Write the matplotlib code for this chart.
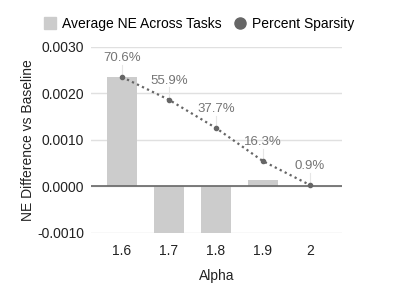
import numpy as np
import matplotlib.pyplot as plt

plt.rcParams['font.family'] = ['Liberation Sans', 'DejaVu Sans']

# Data
alpha = ['1.6', '1.7', '1.8', '1.9', '2']
ne_diff = [0.00235, -0.0012, -0.0012, 0.00013, 0.0]
sparsity = [70.6, 55.9, 37.7, 16.3, 0.9]

x = np.arange(len(alpha))

fig = plt.figure(figsize=(3.99, 2.99), dpi=100)
ax = fig.add_axes([0.228, 0.221, 0.629, 0.622])

ax.bar(x, ne_diff, width=0.64, color='#cccccc', zorder=2)
ax.set_ylim(-0.001, 0.003)
ax.set_xlim(-0.66, 4.68)
yt = [-0.001, 0.0, 0.001, 0.002, 0.003]
ax.set_yticks(yt)
ax.set_yticklabels(['%.4f' % v for v in yt])
ax.set_xticks(x)
ax.set_xticklabels(alpha)
ax.grid(axis='y', color='#e0e0e0', linewidth=1, zorder=0)
ax.axhline(0, color='#666666', linewidth=1.2, zorder=3)
for s in ax.spines.values():
    s.set_visible(False)
ax.tick_params(axis='y', length=0, labelsize=10, colors='#222222', pad=5)
ax.tick_params(axis='x', length=0, labelsize=10, colors='#222222', pad=8)
ax.set_xlabel('Alpha', fontsize=10, color='#222222', labelpad=8)
ax.set_ylabel('NE Difference vs Baseline', fontsize=10, color='#222222')
ax.yaxis.set_label_coords(-0.225, 0.5)

# Secondary axis for sparsity
ax2 = ax.twinx()
ax2.set_ylim(-30, 90)
ax2.set_axis_off()
ax2.plot(x, sparsity, color='#666666', linestyle=(0, (1, 1.5)), linewidth=1.6,
         marker='o', markersize=3, zorder=4)
for xi, v in zip(x, sparsity):
    ax2.plot([xi, xi], [v + 1.5, v + 8], color='#e6e6e6', linewidth=0.8, zorder=3)
    ax2.text(xi, v + 8.5, '%.1f%%' % v, ha='center', va='bottom', fontsize=9.5, color='#757575')

# Legend
handles = [plt.Line2D([], [], marker='s', color='#cccccc', linestyle='none', markersize=8),
           plt.Line2D([], [], marker='o', color='#666666', linestyle='none', markersize=8)]
fig.legend(handles, ['Average NE Across Tasks', 'Percent Sparsity'], loc='upper center',
           bbox_to_anchor=(0.5, 0.985), ncol=2, frameon=False, fontsize=10,
           handlelength=0.8, handletextpad=0.5, columnspacing=0.9)

fig.savefig('out.png', dpi=100)
